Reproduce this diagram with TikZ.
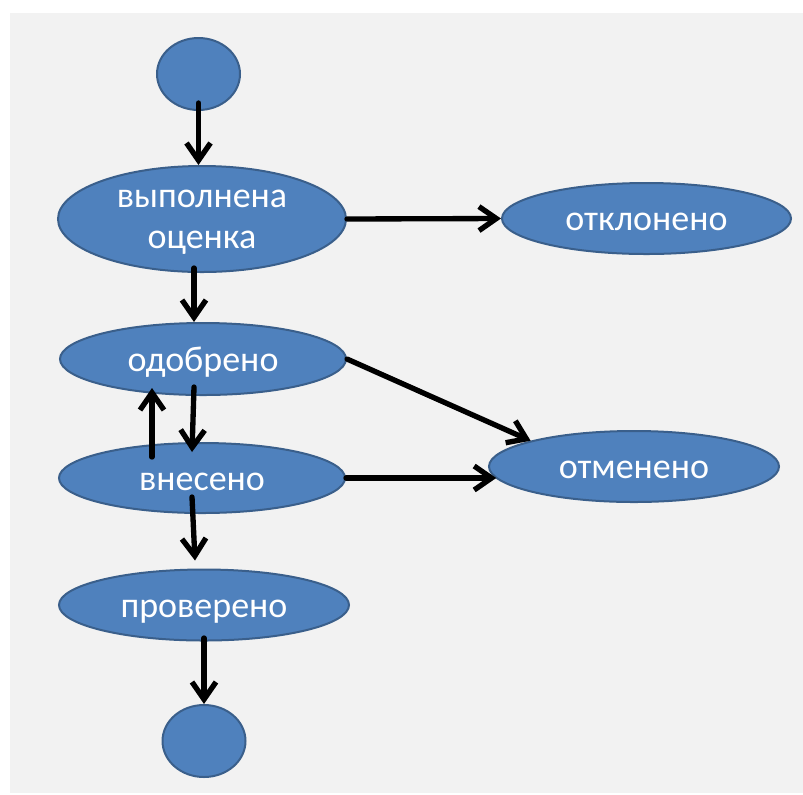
\documentclass[tikz,border=0pt]{standalone}
\usepackage{fontspec}
\setmainfont{Carlito}
\usepackage{tikz}
\usetikzlibrary{arrows.meta}
\usetikzlibrary{positioning}
\usetikzlibrary{shapes.geometric}
\usetikzlibrary{calc}

\definecolor{stateblue}{HTML}{4F81BD}
\definecolor{stateedge}{HTML}{3A5F8B}
\definecolor{sheetgrey}{HTML}{F2F2F2}

\tikzset{
  state/.style={ellipse, draw=stateedge, line width=1.5pt, fill=stateblue, text=white, inner sep=0pt, align=center, font=\fontsize{27}{30.5}\selectfont},
  oneline/.style={state, text height=18pt, text depth=0pt},
  flow/.style={draw=black, line width=4pt, line cap=round, -{Straight Barb[length=13pt,width=18pt]}}
}

\begin{document}
\begin{tikzpicture}[x=0.75pt,y=0.75pt,yscale=-1,xscale=1]
\useasboundingbox (0,0) rectangle (803,794);
%Shape: Rectangle [background]
\fill [sheetgrey] (10,13) rectangle (803,793);

%Shape: Ellipse [start]
\node [state, minimum width=62.25pt, minimum height=54pt] (start) at (198.5,74) {};
%Shape: Ellipse [evaluated]
\node [state, text depth=-7pt, minimum width=216pt, minimum height=79.5pt] (evald) at (202,219) {выполнена\\оценка};
%Shape: Ellipse [rejected]
\node [oneline, minimum width=216.75pt, minimum height=53.25pt] (rejected) at (646.5,218.5) {отклонено};
%Shape: Ellipse [approved]
\node [oneline, minimum width=214.5pt, minimum height=54pt] (approved) at (203,359) {одобрено};
%Shape: Ellipse [entered]
\node [oneline, minimum width=214.5pt, minimum height=52.5pt] (entered) at (202,478) {внесено};
%Shape: Ellipse [cancelled]
\node [oneline, minimum width=217.5pt, minimum height=53.25pt] (cancelled) at (634,466.5) {отменено};
%Shape: Ellipse [checked]
\node [oneline, minimum width=217.5pt, minimum height=53.25pt] (checked) at (204,605) {проверено};
%Shape: Ellipse [finish]
\node [state, minimum width=62.25pt, minimum height=54pt] (finish) at (204,741) {};

%Straight Lines [start -> evald]
\draw [flow] ($(start)+(0,29)$) -- (start |- evald.north);
%Straight Lines [evald -> rejected]
\draw [flow] (evald.east) -- (rejected.west);
%Straight Lines [evald -> approved]
\draw [flow] ($(evald)+(-8,49)$) -- ($(approved.north)+(-9,0)$);
%Straight Lines [approved -> cancelled]
\draw [flow] (approved.east) -- (cancelled.166);
%Straight Lines [approved -> entered]
\draw [flow] ($(approved)+(-9,28)$) -- ($(entered.north)+(-10,10)$);
%Straight Lines [entered -> approved]
\draw [flow] ($(entered)+(-50,-21)$) -- ($(approved)+(-51,29)$);
%Straight Lines [entered -> cancelled]
\draw [flow] (entered.east) -- (entered.east -| cancelled.185);
%Straight Lines [entered -> checked]
\draw [flow] ($(entered)+(-10,19)$) -- ($(checked.north)+(-9,-8)$);
%Straight Lines [checked -> finish]
\draw [flow] ($(checked)+(0,33)$) -- (finish.north);

\end{tikzpicture}
\end{document}
